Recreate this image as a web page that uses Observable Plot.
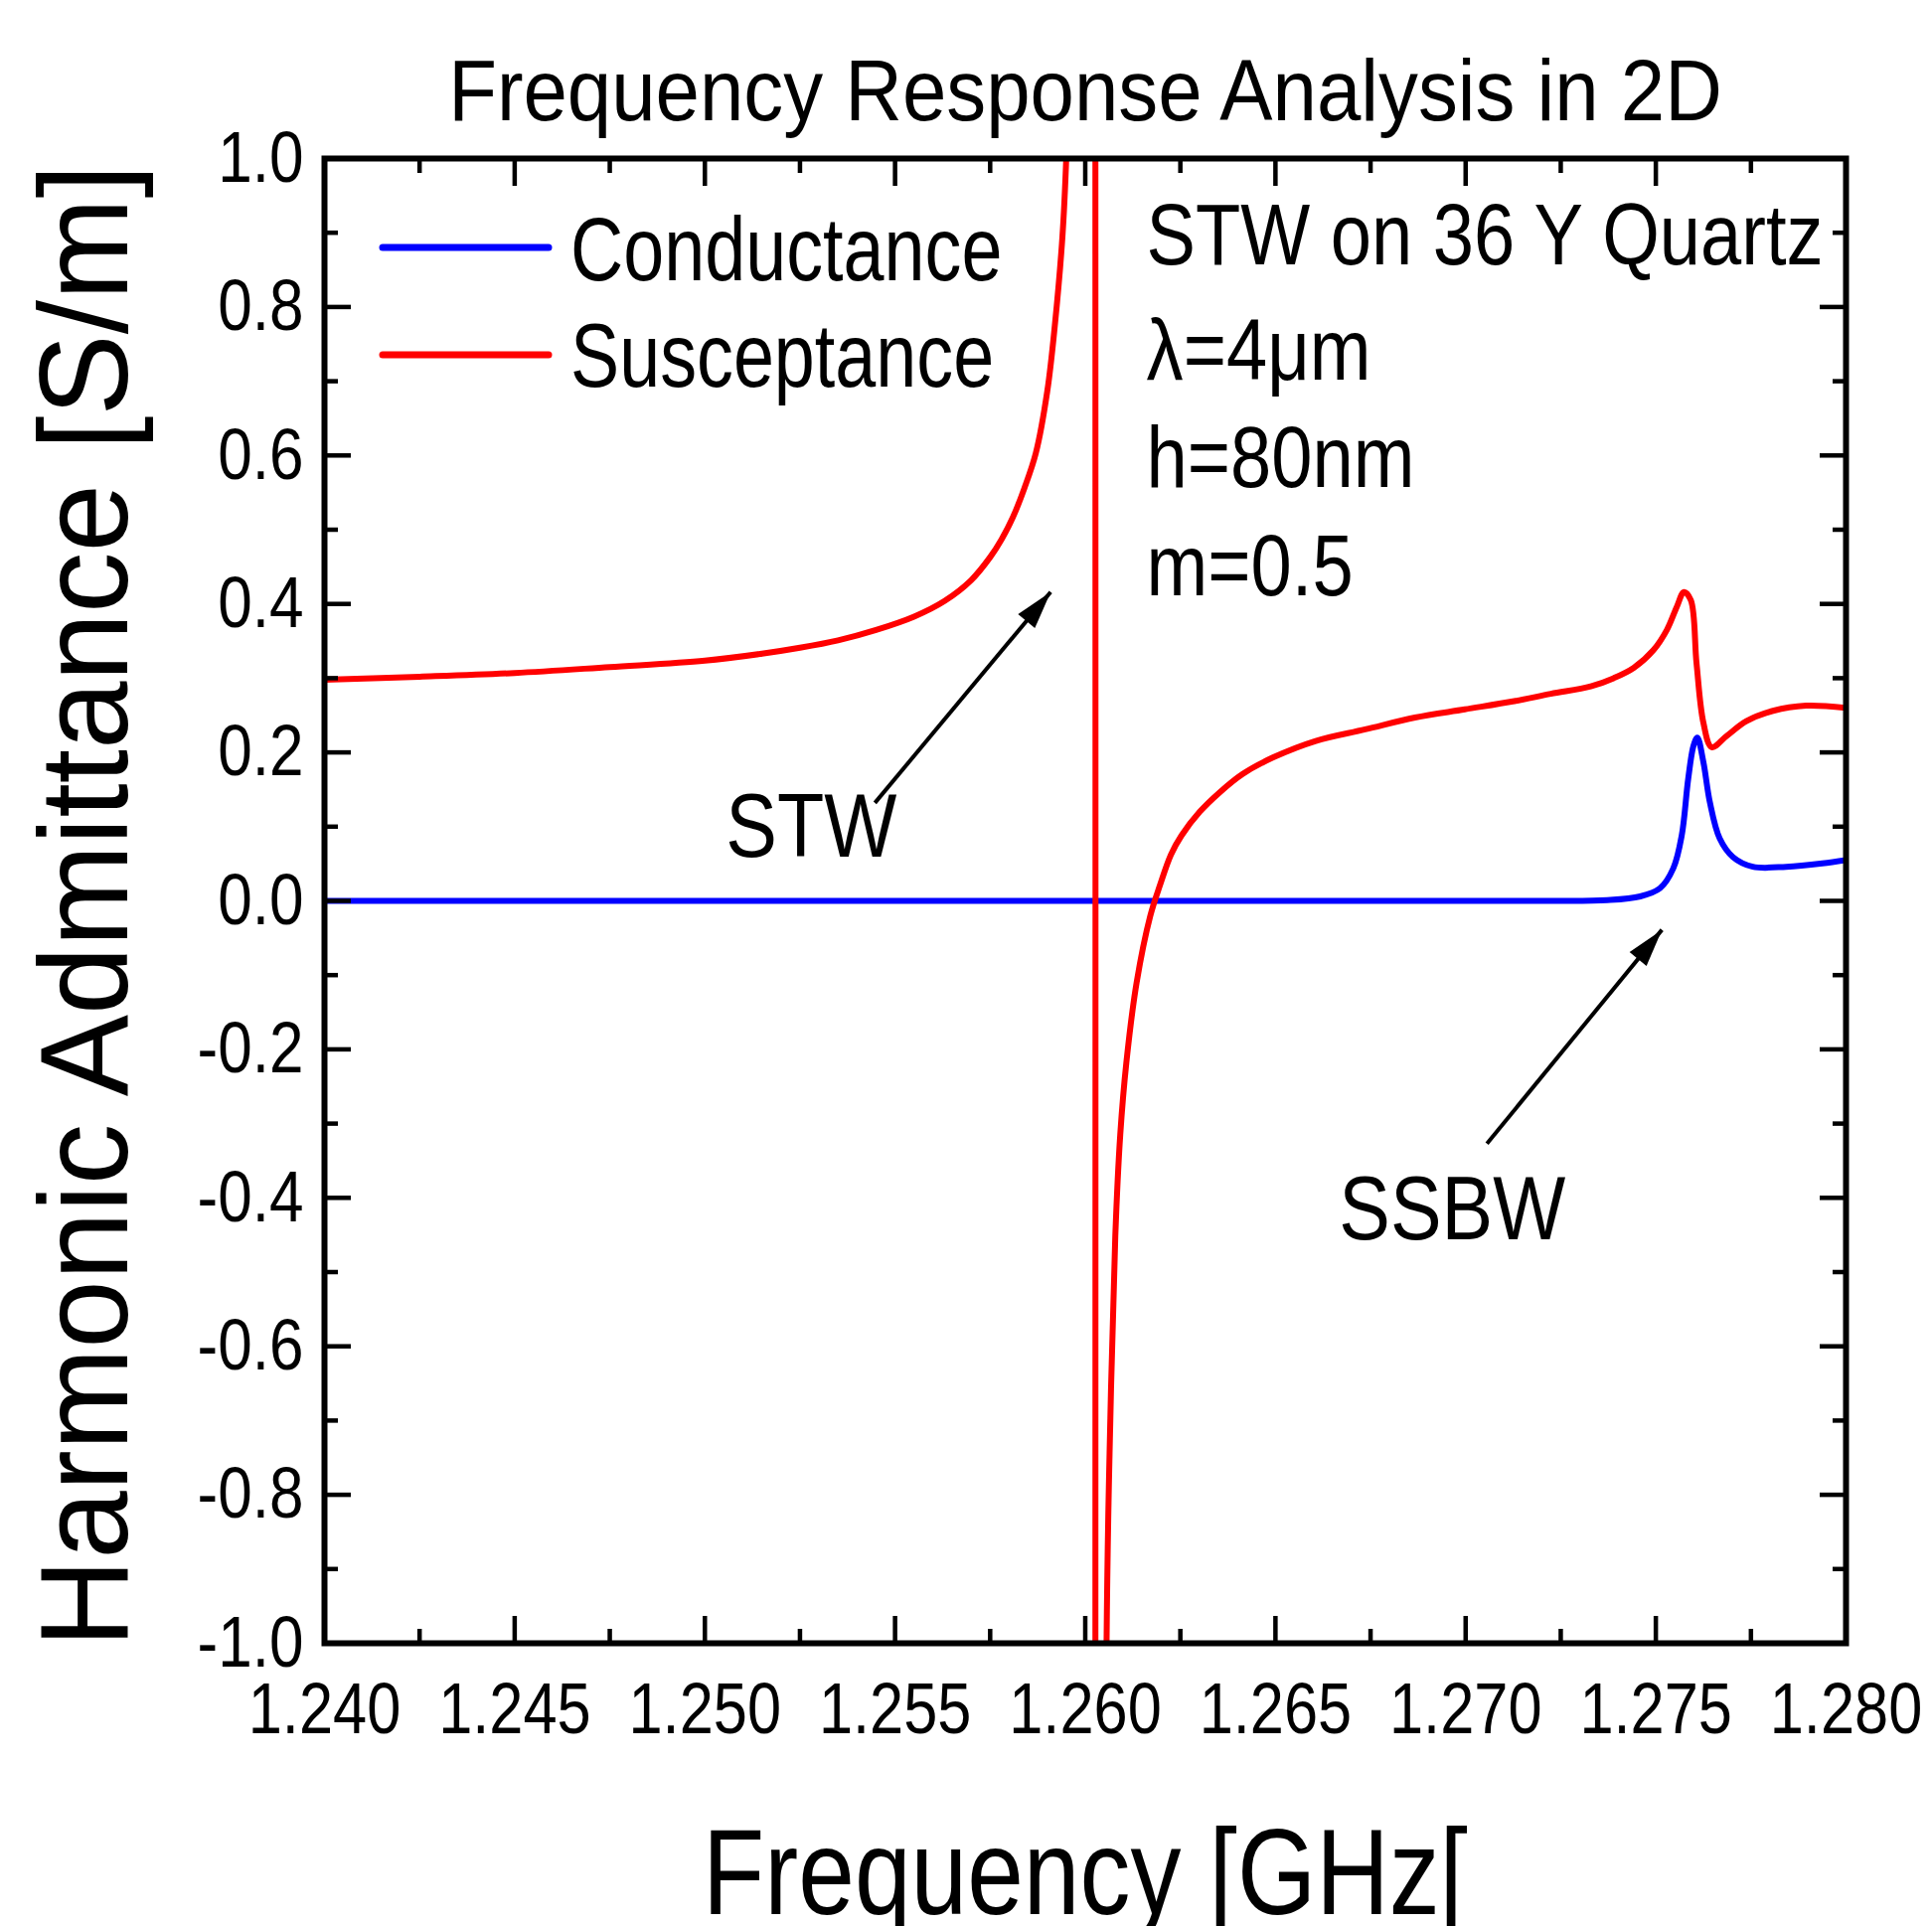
<!DOCTYPE html>
<html>
<head>
<meta charset="utf-8">
<script src="https://cdn.jsdelivr.net/npm/d3@7"></script>
<script src="https://cdn.jsdelivr.net/npm/@observablehq/plot@0.6"></script>
<style>
  html, body { margin: 0; padding: 0; background: #fff; }
  svg { display: block; }
</style>
</head>
<body>
<div id="chart"></div>
<script>
// ---------- data ----------
const freqS = [1.2400, 1.2425, 1.2450, 1.2475, 1.2500, 1.2515, 1.2525, 1.2535, 1.2545, 1.2555,
  1.2563, 1.2570, 1.2575, 1.2578, 1.2581, 1.2584, 1.2587, 1.2590, 1.2592, 1.2594, 1.2595, 1.2598,
  1.26025, 1.26025, 1.26056, 1.26066, 1.26079, 1.26092, 1.26108, 1.26135, 1.26171, 1.26197,
  1.26225, 1.26253, 1.26301, 1.26353, 1.26414, 1.26493, 1.26606, 1.26736, 1.26867, 1.26998, 1.27128,
  1.27224, 1.27329, 1.27389, 1.27442, 1.27494, 1.27529, 1.27555, 1.27574, 1.27592, 1.27607,
  1.27625, 1.27647, 1.27686, 1.27738, 1.27808, 1.27895, 1.28000];
const susceptance = [0.298, 0.302, 0.307, 0.315, 0.3235, 0.333, 0.341, 0.351, 0.365, 0.383,
  0.404, 0.432, 0.463, 0.487, 0.517, 0.556, 0.603, 0.686, 0.775, 0.895, 1.0, 1.6,
  8.0, -8.0, -1.0, -0.697, -0.451, -0.315, -0.218, -0.110, -0.020, 0.022,
  0.062, 0.088, 0.120, 0.146, 0.171, 0.193, 0.2155, 0.231, 0.247, 0.258, 0.269,
  0.279, 0.289, 0.300, 0.314, 0.338, 0.365, 0.396, 0.416, 0.405, 0.320,
  0.240, 0.207, 0.222, 0.242, 0.256, 0.263, 0.260];

const freqC = [1.2400, 1.2600, 1.2720, 1.27372, 1.27459, 1.27511, 1.27546, 1.27568, 1.27585, 1.27599,
  1.27609, 1.27625, 1.27642, 1.27668, 1.27703, 1.27755, 1.27843, 1.27938, 1.28000];
const conductance = [0.0, 0.0, 0.0, 0.001, 0.006, 0.017, 0.044, 0.088, 0.164, 0.209,
  0.220, 0.187, 0.133, 0.084, 0.059, 0.046, 0.046, 0.0505, 0.055];

const seriesNames = ["Conductance", "Susceptance"];
const seriesColors = ["#0000ff", "#ff0000"];

const xTickValues = [1.240, 1.245, 1.250, 1.255, 1.260, 1.265, 1.270, 1.275, 1.280];
const xMinorTicks = [1.2425, 1.2475, 1.2525, 1.2575, 1.2625, 1.2675, 1.2725, 1.2775];
const yTickValues = [-1.0, -0.8, -0.6, -0.4, -0.2, 0.0, 0.2, 0.4, 0.6, 0.8, 1.0];
const yMinorTicks = [-0.9, -0.7, -0.5, -0.3, -0.1, 0.1, 0.3, 0.5, 0.7, 0.9];

const titleText = "Frequency Response Analysis in 2D";
const xLabelText = "Frequency [GHz[";
const yLabelText = "Harmonic Admittance [S/m]";

const noteLines = ["STW on 36 Y Quartz", "λ=4μm", "h=80nm", "m=0.5"];
const noteX = [1.26161, 1.26161, 1.26161, 1.26161];
const noteY = [0.858, 0.702, 0.557, 0.412];

const waveLabels = ["STW", "SSBW"];
const waveLabelX = [1.25055, 1.26667];
const waveLabelY = [0.059, -0.456];
const arrowX1 = [1.25447, 1.27056];
const arrowY1 = [0.132, -0.327];
const arrowX2 = [1.25909, 1.27516];
const arrowY2 = [0.416, -0.039];

// ---------- tables ----------
const rows = [
  ...freqC.map((x, i) => ({series: seriesNames[0], x, y: conductance[i]})),
  ...freqS.map((x, i) => ({series: seriesNames[1], x, y: susceptance[i]}))
];
const notes = noteLines.map((text, i) => ({text, x: noteX[i], y: noteY[i]}));
const arrows = waveLabels.map((label, i) => ({
  label, tx: waveLabelX[i], ty: waveLabelY[i],
  x1: arrowX1[i], y1: arrowY1[i], x2: arrowX2[i], y2: arrowY2[i]
}));

const FONT = "'Liberation Sans', Arial, Helvetica, sans-serif";
const W = 1944, H = 1938;
const M = {top: 159, right: 87, bottom: 285, left: 326};

// arrow head: tip at origin, pointing up
const headSymbol = {
  draw(ctx) {
    ctx.moveTo(0, 0);
    ctx.lineTo(11, 38);
    ctx.lineTo(-11, 38);
    ctx.closePath();
  }
};

function tickOnly(axisFn, anchor, ticks, size) {
  return axisFn({anchor, ticks, tickSize: -size, tickFormat: () => "", label: null,
    stroke: "black", strokeWidth: 4.5});
}

function build(angles) {
  return Plot.plot({
    width: W, height: H,
    marginTop: M.top, marginRight: M.right, marginBottom: M.bottom, marginLeft: M.left,
    style: {fontFamily: FONT, fontSize: "73px", background: "#fff", color: "#000"},
    x: {domain: [1.24, 1.28]},
    y: {domain: [-1, 1]},
    color: {domain: seriesNames, range: seriesColors},
    marks: [
      Plot.line(rows, {x: "x", y: "y", z: "series", stroke: "series", strokeWidth: 6,
        curve: "catmull-rom", clip: true, strokeLinejoin: "round"}),
      // inward ticks on all four sides
      tickOnly(Plot.axisX, "bottom", xMinorTicks, 14),
      tickOnly(Plot.axisX, "top", xMinorTicks, 14),
      tickOnly(Plot.axisX, "bottom", xTickValues, 27),
      tickOnly(Plot.axisX, "top", xTickValues, 27),
      tickOnly(Plot.axisY, "left", yMinorTicks, 14),
      tickOnly(Plot.axisY, "right", yMinorTicks, 14),
      tickOnly(Plot.axisY, "left", yTickValues, 27),
      tickOnly(Plot.axisY, "right", yTickValues, 27),
      // tick labels
      Plot.axisX({anchor: "bottom", ticks: xTickValues, tickSize: 0, tickPadding: 39,
        tickFormat: d => d.toFixed(3), label: null, fontSize: 73}),
      Plot.axisY({anchor: "left", ticks: yTickValues, tickSize: 0, tickPadding: 21,
        tickFormat: d => d.toFixed(1), label: null, fontSize: 73}),
      Plot.frame({stroke: "black", strokeWidth: 6}),
      // annotations
      Plot.link(arrows, {x1: "x1", y1: "y1", x2: "x2", y2: "y2", stroke: "black", strokeWidth: 4}),
      Plot.dot(arrows, {x: "x2", y: "y2", symbol: headSymbol, r: 10, fill: "black",
        rotate: (d, i) => angles[i]}),
      Plot.text(arrows, {x: "tx", y: "ty", text: "label", textAnchor: "start", lineAnchor: "bottom",
        fontSize: 90}),
      Plot.text(notes, {x: "x", y: "y", text: "text", textAnchor: "start", lineAnchor: "bottom",
        fontSize: 88}),
      Plot.text([titleText], {text: d => d, frameAnchor: "top", textAnchor: "middle", dy: -39,
        lineAnchor: "bottom", fontSize: 87}),
      Plot.text([xLabelText], {text: d => d, frameAnchor: "bottom", textAnchor: "middle", dy: 272,
        lineAnchor: "bottom", fontSize: 123}),
      Plot.text([yLabelText], {text: d => d, frameAnchor: "left", textAnchor: "middle", rotate: -90,
        dx: -199, dy: 5, lineAnchor: "bottom", fontSize: 127})
    ]
  });
}

// first pass to get the scales, then compute arrow-head rotation
const probe = build([0, 0]);
const sx = probe.scale("x"), sy = probe.scale("y");
const angles = arrows.map(a => {
  const dx = sx.apply(a.x2) - sx.apply(a.x1);
  const dy = sy.apply(a.y2) - sy.apply(a.y1);
  return Math.atan2(dx, -dy) * 180 / Math.PI;
});
const plot = build(angles);
document.getElementById("chart").appendChild(plot);

// legend
const svg = d3.select(plot);
const lg = svg.append("g").attr("aria-label", "legend");
seriesNames.forEach((name, i) => {
  const ly = M.top + 90 + 108 * i;
  lg.append("line")
    .attr("x1", M.left + 59).attr("x2", M.left + 226)
    .attr("y1", ly).attr("y2", ly)
    .attr("stroke", seriesColors[i]).attr("stroke-width", 7).attr("stroke-linecap", "round");
  lg.append("text")
    .attr("x", M.left + 248).attr("y", M.top + 123 + 107 * i)
    .attr("text-anchor", "start")
    .attr("font-family", FONT).attr("font-size", 91).attr("fill", "#000")
    .text(name);
});

// horizontal condensing of the text, as in the original
const ratioByText = new Map([
  [titleText, 0.917], [xLabelText, 0.828], [yLabelText, 0.97],
  ...noteLines.map(t => [t, 0.842]),
  ...waveLabels.map(t => [t, 0.86]),
  ...seriesNames.map(t => [t, 0.81]),
  ...xTickValues.map(v => [v.toFixed(3), 0.84]),
  ...yTickValues.map(v => [v.toFixed(1), 0.85])
]);
plot.querySelectorAll("text").forEach(t => {
  const r = ratioByText.get(t.textContent);
  if (!r) return;
  const w = t.getComputedTextLength();
  if (w > 0) {
    t.setAttribute("textLength", (w * r).toFixed(1));
    t.setAttribute("lengthAdjust", "spacingAndGlyphs");
  }
});
</script>
</body>
</html>
